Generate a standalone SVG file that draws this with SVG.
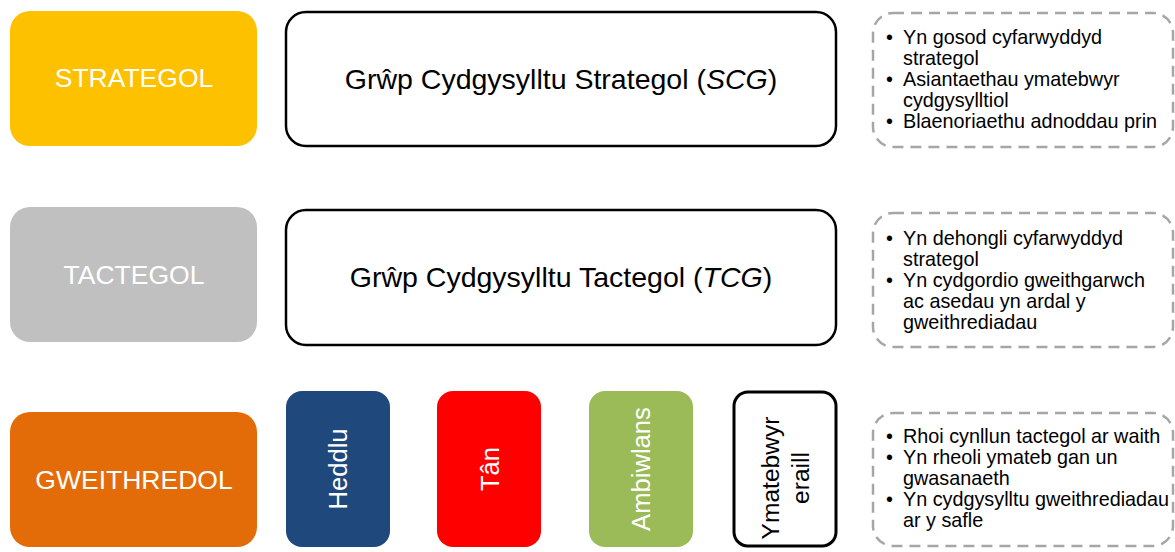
<svg xmlns="http://www.w3.org/2000/svg" width="1175" height="552" viewBox="0 0 1175 552">
<style>
.lvl{font-family:"Liberation Sans",Arial,sans-serif;font-size:26.5px;fill:#fff;text-anchor:middle;dominant-baseline:central}
.grp{font-family:"Liberation Sans",Arial,sans-serif;font-size:28.5px;fill:#000;text-anchor:middle;dominant-baseline:central}
.oth{font-family:"Liberation Sans",Arial,sans-serif;font-size:24.6px;fill:#000;text-anchor:middle;dominant-baseline:central}
.svc{font-family:"Liberation Sans",Arial,sans-serif;font-size:25.6px;fill:#fff;text-anchor:middle;dominant-baseline:central}
.blt{font-family:"Liberation Sans",Arial,sans-serif;font-size:19.8px;fill:#000}
.dash{fill:#fff;stroke:#a6a6a6;stroke-width:2.5;stroke-dasharray:11 7}
.wbox{fill:#fff;stroke:#000;stroke-width:2.5}
</style>
<rect width="1175" height="552" fill="#fff"/>
<g id="strategol"><rect x="10" y="11" width="247" height="135" rx="20" fill="#fdc100"/><text class="lvl" x="134" y="78">STRATEGOL</text></g>
<g id="tactegol"><rect x="10" y="207" width="247" height="135" rx="20" fill="#c0c0c0"/><text class="lvl" x="134" y="275">TACTEGOL</text></g>
<g id="gweithredol"><rect x="10" y="412" width="247" height="135" rx="20" fill="#e36c09"/><text class="lvl" x="134" y="480">GWEITHREDOL</text></g>
<g id="scg"><rect class="wbox" x="286" y="12" width="550" height="134" rx="20"/><text class="grp" x="561" y="79">Grŵp Cydgysylltu Strategol (<tspan font-style="italic">SCG</tspan>)</text></g>
<g id="tcg"><rect class="wbox" x="286" y="210" width="550" height="135" rx="20"/><text class="grp" x="561" y="277">Grŵp Cydgysylltu Tactegol (<tspan font-style="italic">TCG</tspan>)</text></g>
<g id="heddlu"><rect x="286" y="391" width="104" height="156" rx="16" fill="#1f497d"/><text class="svc" transform="translate(338,469) rotate(-90)">Heddlu</text></g>
<g id="tan"><rect x="437" y="391" width="104" height="156" rx="16" fill="#ff0000"/><text class="svc" transform="translate(490,469) rotate(-90)">Tân</text></g>
<g id="ambiwlans"><rect x="589" y="391" width="104" height="156" rx="16" fill="#9bbb59"/><text class="svc" transform="translate(641,469) rotate(-90)">Ambiwlans</text></g>
<g id="ymatebwyr"><rect x="734" y="392" width="102" height="154" rx="14" fill="#fff" stroke="#000" stroke-width="3"/><text class="oth" transform="translate(785,478) rotate(-90)"><tspan x="0" dy="-15">Ymatebwyr</tspan><tspan x="0" dy="30">eraill</tspan></text></g>
<g id="desc-strategol"><rect class="dash" x="873" y="13" width="300" height="134" rx="20"/>
<text class="blt"><tspan x="886" y="44">•</tspan><tspan x="903" y="44">Yn gosod cyfarwyddyd</tspan><tspan x="903" y="65">strategol</tspan><tspan x="886" y="86">•</tspan><tspan x="903" y="86">Asiantaethau ymatebwyr</tspan><tspan x="903" y="107">cydgysylltiol</tspan><tspan x="886" y="128">•</tspan><tspan x="903" y="128">Blaenoriaethu adnoddau prin</tspan></text></g>
<g id="desc-tactegol"><rect class="dash" x="873" y="213" width="300" height="134" rx="20"/>
<text class="blt"><tspan x="886" y="245">•</tspan><tspan x="903" y="245">Yn dehongli cyfarwyddyd</tspan><tspan x="903" y="266">strategol</tspan><tspan x="886" y="287">•</tspan><tspan x="903" y="287">Yn cydgordio gweithgarwch</tspan><tspan x="903" y="308">ac asedau yn ardal y</tspan><tspan x="903" y="329">gweithrediadau</tspan></text></g>
<g id="desc-gweithredol"><rect class="dash" x="873" y="413" width="300" height="133" rx="20"/>
<text class="blt"><tspan x="886" y="443">•</tspan><tspan x="903" y="443">Rhoi cynllun tactegol ar waith</tspan><tspan x="886" y="464">•</tspan><tspan x="903" y="464">Yn rheoli ymateb gan un</tspan><tspan x="903" y="485">gwasanaeth</tspan><tspan x="886" y="506">•</tspan><tspan x="903" y="506">Yn cydgysylltu gweithrediadau</tspan><tspan x="903" y="527">ar y safle</tspan></text></g>
<g id="connectors"/>
</svg>
